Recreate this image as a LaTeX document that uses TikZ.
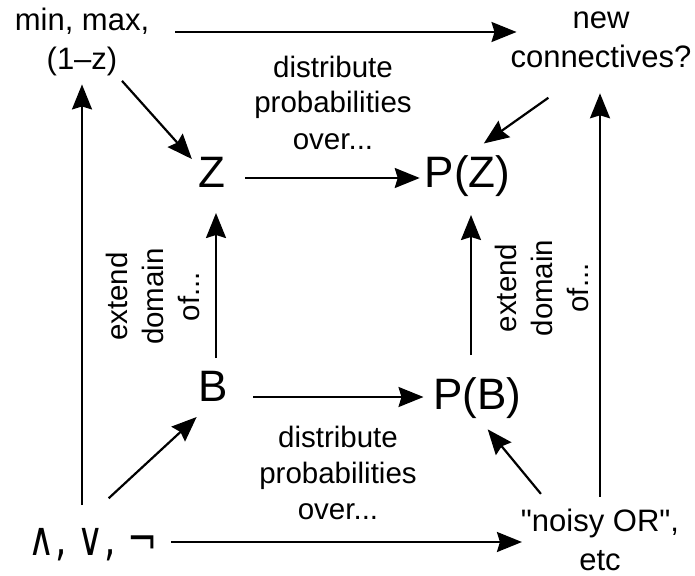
\documentclass[tikz,border=0pt]{standalone}
\usepackage{fontspec}
\usepackage{graphicx}
\setmainfont{Liberation Sans}
\newfontfamily\symfont{DejaVu Sans}
\usetikzlibrary{arrows.meta,calc}
\tikzset{
  every node/.style={inner sep=0pt, outer sep=0pt},
  big/.style={font=\fontsize{44}{50}\selectfont, text height=32pt, text depth=14pt},
  corner/.style={font=\fontsize{31}{39}\selectfont, align=center, anchor=base},
  lbl/.style={font=\fontsize{29.5}{36}\selectfont, align=center},
  arr/.style={line width=2.2pt, -{Stealth[length=25pt,width=20pt,inset=3pt]}},
}
\begin{document}
\begin{tikzpicture}[x=1pt,y=-1pt]
\fill[white] (0,0) rectangle (695,575);
\useasboundingbox (0,0) rectangle (695,575);
% main nodes
\node[big] (Z) at (212,178) {Z};
\node[big] (PZ) at (467.5,178) {P(Z)};
\node[big] (B) at (213.5,392) {B};
\node[big, text depth=8pt] (PB) at (477.5,397) {P(B)};
% corner nodes (base = last line)
\node[corner] (minmax) at (82,70) {min, max,\\(1–z)};
\node[corner] (newconn) at (601,68) {new\\connectives?};
\node[corner] (noisy) at (600,570) {\textquotedbl noisy OR\textquotedbl,\\etc};
\node[anchor=base, font=\fontsize{36}{40}\symfont, text height=33pt, text depth=7pt] (andornot) at (93,555) {\scalebox{1}[1.3]{∧, ∨, ¬}};
% labels
\node[lbl, anchor=base] (toplbl) at (333,149) {distribute\\probabilities\\over...};
\node[lbl, anchor=base] (botlbl) at (338,519) {distribute\\probabilities\\over...};
\node[lbl, rotate=90] (leftlbl) at (152.5,296.5) {extend\\domain\\of...};
\node[lbl, rotate=90] (rightlbl) at (541.5,288) {extend\\domain\\of...};
% connectors
\draw[arr, shorten <=26pt, shorten >=-6pt] ([yshift=38pt]minmax.base east) -- ([yshift=38pt]minmax.base east -| newconn.base west);
\draw[arr, shorten <=17pt, shorten >=8pt] (minmax.south |- andornot.north) -- (minmax.south);
\draw[arr, shorten <=6pt, shorten >=10pt] ([xshift=36pt]minmax.south) -- ($(Z.north west)!0.5!(Z.west)$);
\draw[arr, shorten <=51pt, shorten >=20pt] ([xshift=-11pt]newconn.south) -- (PZ.north);
\draw[arr, shorten <=12pt, shorten >=25pt] (noisy.north) -- (noisy.north |- newconn.south);
\draw[arr, shorten <=14pt, shorten >=-1pt] (andornot.east) -- (andornot.east -| noisy.west);
\draw[arr, shorten <=35pt, shorten >=3pt] ([xshift=-10pt]andornot.north) -- (B.south west);
\draw[arr, shorten <=19pt, shorten >=16pt] ([xshift=-47pt]noisy.north) -- (PB.south);
\draw[arr, shorten <=20pt, shorten >=5pt] (Z.east) -- (PZ.west);
\draw[arr, shorten <=25pt, shorten >=10pt] (PB.west -| B.east) -- (PB.west);
\draw[arr, shorten <=11pt, shorten >=12pt] ([xshift=2.5pt]B.north) -- ([xshift=2.5pt]B.north |- Z.south);
\draw[arr, shorten <=22pt, shorten >=14pt] ([xshift=3.5pt]PZ.south |- PB.north) -- ([xshift=3.5pt]PZ.south);
\end{tikzpicture}
\end{document}
